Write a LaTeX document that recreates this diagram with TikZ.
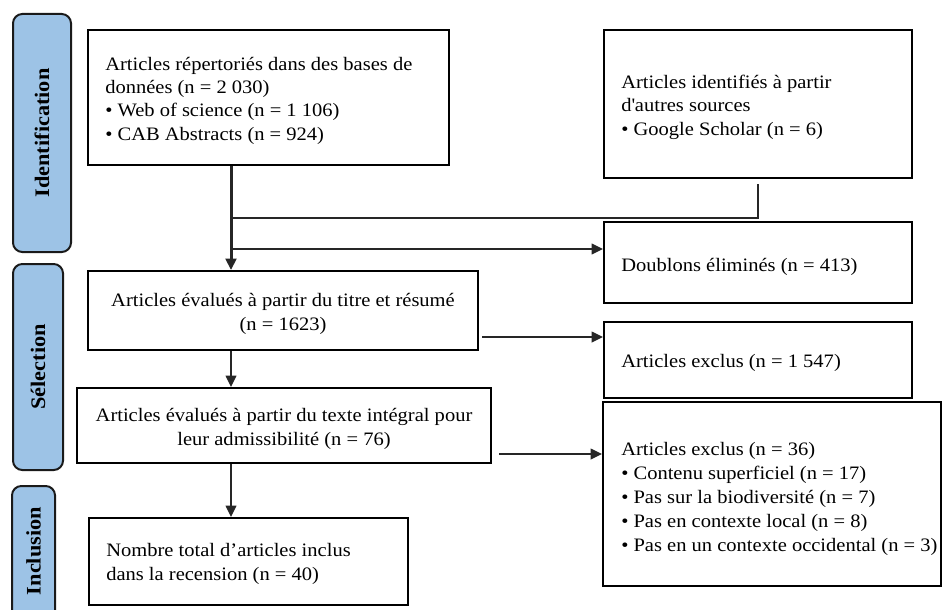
\documentclass[tikz,border=0pt]{standalone}
\usepackage{fontspec}
\setmainfont{Liberation Serif}[FakeStretch=1.08]
\usetikzlibrary{arrows.meta,fit}
\definecolor{phase}{HTML}{9DC3E6}
\definecolor{edge}{HTML}{1A1A1A}
\begin{document}
\begin{tikzpicture}[x=0.75pt,y=-0.75pt,
  phasebox/.style={draw=edge, fill=phase, line width=1.5pt, rounded corners=7pt},
  frame/.style={draw=black, line width=1.5pt, inner sep=0pt},
  txt/.style={inner sep=0pt, align=left, font=\fontsize{14.25}{17.5}\selectfont},
  ctxt/.style={inner sep=0pt, align=center, font=\fontsize{14.25}{17.5}\selectfont},
  lbl/.style={rotate=90, inner sep=0pt, font=\fontsize{15.5}{18}\selectfont\bfseries},
  link/.style={line width=1.1pt, draw=black!85},
  tip/.style={-{Triangle[length=8.5pt,width=8pt]}},
]
\useasboundingbox (0,0) rectangle (942,610);

% phase boxes
\path[phasebox] (13,14) rectangle (71,252);
\node[lbl] (pid) at (42,133) {Identification};
\path[phasebox] (13,264) rectangle (63,470);
\node[lbl] (psel) at (38,367) {Sélection};
\path[phasebox] (12,486) rectangle (55,625);
\node[lbl] (pinc) at (33.5,551) {Inclusion};

% boxes
\node[frame, fit={(88,30) (449,165)}] (b1) {};
\node[frame, fit={(604,30) (912,178)}] (gs) {};
\node[frame, fit={(604,222) (912,303)}] (db) {};
\node[frame, fit={(88,271) (478,350)}] (b2) {};
\node[frame, fit={(604,322) (912,398)}] (ex1) {};
\node[frame, fit={(77,388) (491,463)}] (b3) {};
\node[frame, fit={(603,402) (941,586)}] (ex2) {};
\node[frame, fit={(89,518) (408,605)}] (b4) {};

% texts (anchor = baseline of the last line)
\node[txt, anchor=base west] (t1) at (105,140) {Articles répertoriés dans des bases de\\données (n = 2 030)\\• Web of science (n = 1 106)\\• CAB Abstracts (n = 924)};
\node[txt, anchor=base west] (t2) at (621,135) {Articles identifiés à partir\\d\textquotesingle autres sources\\• Google Scholar (n = 6)};
\node[txt, anchor=base west] (t3) at (621,271) {Doublons éliminés (n = 413)};
\node[ctxt, anchor=base] (t4) at (283,330) {Articles évalués à partir du titre et résumé\\(n = 1623)};
\node[txt, anchor=base west] (t5) at (621,367) {Articles exclus (n = 1 547)};
\node[ctxt, anchor=base] (t6) at (284,445) {Articles évalués à partir du texte intégral pour\\leur admissibilité (n = 76)};
\node[txt, anchor=base west, font=\fontsize{14.25}{17.9}\selectfont] (t7) at (621,551) {Articles exclus (n = 36)\\• Contenu superficiel (n = 17)\\• Pas sur la biodiversité (n = 7)\\• Pas en contexte local (n = 8)\\• Pas en un contexte occidental (n = 3)};
\node[txt, anchor=base west] (t8) at (106,580) {Nombre total d’articles inclus\\dans la recension (n = 40)};

% connectors
\coordinate (sx) at (231,0);
\coordinate (m1) at (231,218);
\coordinate (m2) at (231,249);
\coordinate (e1) at (482,337);
\coordinate (e2) at (499,454);
\draw[link, line width=2.25pt, tip] (b1.south -| sx) -- (b2.north -| sx);
\draw[link] (gs.south) ++(0,5) |- (m1);
\draw[link, tip] (m2) -- (m2 -| db.west);
\draw[link, tip] (b2.south -| sx) -- (b3.north -| sx);
\draw[link, tip] (e1) -- (e1 -| ex1.west);
\draw[link, tip] (e2) -- (e2 -| ex2.west);
\draw[link, tip] (b3.south -| sx) -- (b4.north -| sx);
\end{tikzpicture}
\end{document}
